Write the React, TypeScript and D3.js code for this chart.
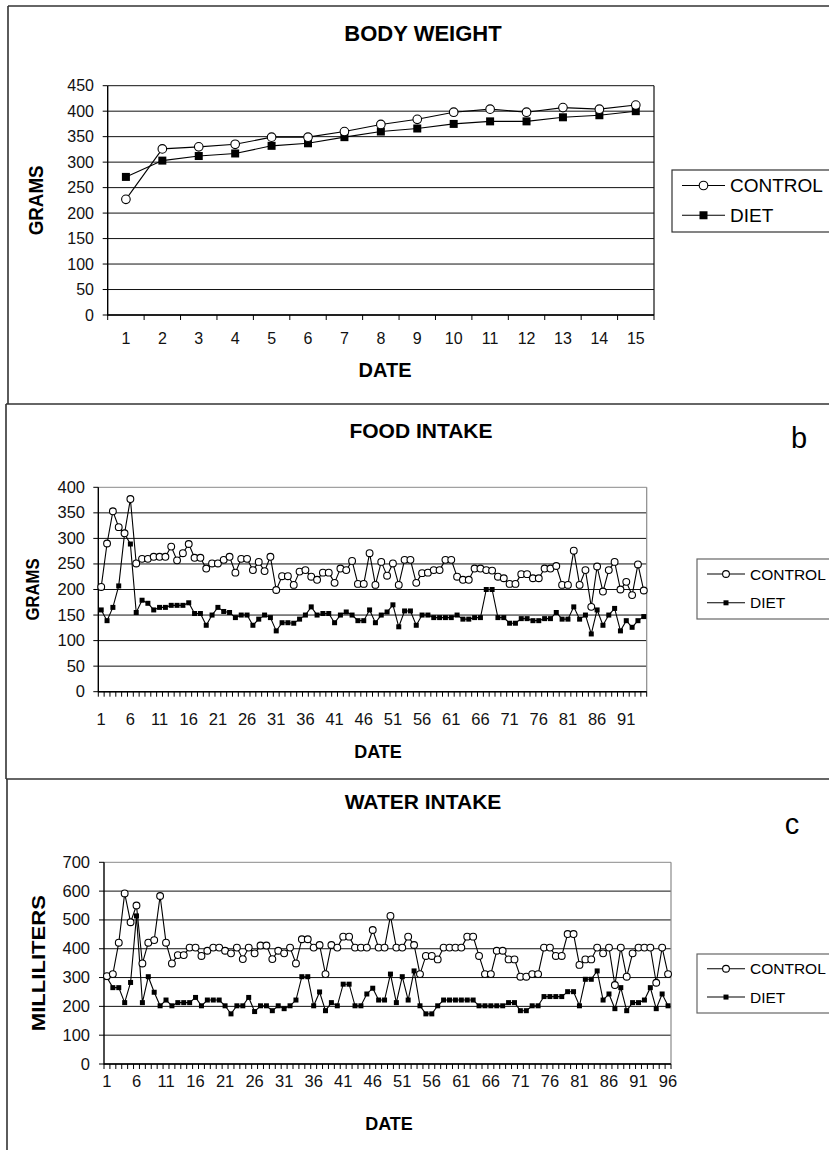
import React from "react";
import * as d3 from "d3";

// body weight, 15 weighings
const bodyDays = d3.range(1, 16);
const bodyControl = [227, 326, 330, 335, 349, 349, 360, 374, 384, 398, 404, 398, 407, 404, 412];
const bodyDiet = [271, 303, 312, 317, 332, 337, 349, 360, 366, 375, 380, 380, 388, 392, 400];

// food intake, 94 days
const foodDays = d3.range(1, 95);
const foodControl = [
  205, 290, 353, 322, 310, 377, 251, 260, 260, 264,
  264, 264, 284, 257, 271, 289, 262, 262, 241, 251,
  251, 258, 264, 233, 260, 260, 238, 254, 236, 264,
  199, 226, 226, 209, 235, 238, 225, 219, 233, 233,
  213, 241, 238, 256, 211, 211, 271, 209, 254, 227,
  251, 209, 258, 258, 213, 232, 233, 238, 238, 258,
  258, 225, 219, 219, 241, 241, 238, 237, 225, 222,
  211, 211, 230, 230, 222, 222, 241, 241, 246, 209,
  209, 276, 209, 238, 166, 245, 196, 238, 254, 200,
  215, 189, 249, 198,
];
const foodDiet = [
  160, 139, 165, 207, 309, 289, 155, 179, 173, 160,
  165, 165, 169, 169, 169, 174, 153, 153, 130, 150,
  165, 157, 155, 145, 150, 150, 130, 142, 150, 145,
  119, 135, 135, 134, 142, 150, 166, 150, 153, 153,
  135, 150, 156, 150, 139, 139, 160, 135, 150, 156,
  170, 127, 158, 158, 130, 150, 150, 145, 145, 145,
  145, 150, 142, 142, 145, 145, 200, 200, 145, 145,
  134, 134, 143, 143, 139, 139, 143, 143, 155, 142,
  142, 166, 142, 150, 113, 160, 130, 150, 163, 119,
  139, 126, 139, 147,
];

// water intake, 96 days
const waterDays = d3.range(1, 97);
const waterControl = [
  305, 312, 421, 592, 492, 550, 349, 421, 430, 583,
  421, 349, 378, 378, 404, 404, 375, 393, 404, 404,
  393, 384, 404, 364, 404, 384, 411, 411, 364, 393,
  384, 404, 349, 433, 433, 404, 413, 312, 413, 404,
  442, 442, 404, 404, 404, 465, 404, 404, 514, 404,
  404, 442, 413, 312, 375, 375, 363, 404, 404, 404,
  404, 442, 442, 375, 312, 312, 393, 393, 363, 363,
  303, 303, 312, 312, 404, 404, 375, 375, 451, 451,
  344, 363, 363, 404, 384, 404, 274, 404, 303, 384,
  404, 404, 404, 282, 404, 312,
];
const waterDiet = [
  300, 265, 265, 213, 283, 514, 213, 303, 249, 202,
  222, 202, 213, 213, 213, 231, 202, 222, 222, 222,
  202, 174, 202, 202, 231, 182, 202, 202, 185, 202,
  192, 202, 222, 303, 303, 202, 250, 185, 213, 202,
  277, 277, 202, 202, 243, 263, 222, 222, 312, 213,
  303, 222, 323, 202, 174, 174, 202, 222, 222, 222,
  222, 222, 222, 202, 202, 202, 202, 202, 213, 213,
  185, 185, 202, 202, 234, 234, 234, 234, 251, 251,
  202, 294, 294, 323, 222, 243, 192, 265, 185, 213,
  213, 222, 265, 192, 243, 202,
];

const seriesNames = ["CONTROL", "DIET"];
const FONT = "'Liberation Sans', Arial, Helvetica, sans-serif";

function Panel(p: any) {
  const x = d3.scaleBand<number>().domain(p.days).range([p.left, p.right]).padding(0);
  const y = d3.scaleLinear().domain([0, p.yMax]).range([p.bottom, p.top]);
  const cx = (d: number) => (x(d) as number) + x.bandwidth() / 2;
  const line = d3
    .line<number>()
    .x((_, i) => cx(p.days[i]))
    .y((v) => y(v));
  const yTicks = d3.range(0, p.yMax + 1, p.yStep);
  const bounds = [...p.days.map((d: number) => x(d) as number), p.right];
  const r = p.big ? 4.3 : 3.4;
  const s = p.big ? 8 : 5;
  const frame = p.big ? "#111" : "#8a8a8a";

  const square = (px: number, py: number, key?: any) => (
    <rect key={key} x={px - s / 2} y={py - s / 2} width={s} height={s} fill="#000" />
  );
  const circle = (px: number, py: number, key?: any) => (
    <circle key={key} cx={px} cy={py} r={r} fill="#fff" stroke="#000" strokeWidth={1.1} />
  );

  return (
    <g fontFamily={FONT}>
      {/* title */}
      <text x={p.titleX} y={p.titleY} textAnchor="middle" fontWeight="bold" fontSize={p.titleSize}>
        {p.title}
      </text>
      {p.letter && (
        <text x={p.letterX} y={p.letterY} textAnchor="middle" fontSize={29}>
          {p.letter}
        </text>
      )}

      {/* grid */}
      {yTicks.map((t: number) => (
        <line
          key={"g" + t}
          x1={p.left}
          x2={p.right}
          y1={y(t)}
          y2={y(t)}
          stroke={t === p.yMax ? frame : "#111"}
          strokeWidth={1}
        />
      ))}
      <line x1={p.right} x2={p.right} y1={p.top} y2={p.bottom} stroke={frame} strokeWidth={1.2} />

      {/* axes */}
      <line x1={p.left} x2={p.left} y1={p.top} y2={p.bottom + 0.5} stroke="#000" strokeWidth={1.4} />
      <line x1={p.left} x2={p.right} y1={p.bottom} y2={p.bottom} stroke="#000" strokeWidth={1.4} />
      {yTicks.map((t: number) => (
        <g key={"y" + t}>
          <line x1={p.left - 5} x2={p.left} y1={y(t)} y2={y(t)} stroke="#000" />
          <text x={p.yLabelEnd} y={y(t) + 5.5} textAnchor="end" fontSize={p.tickSize} fill="#111">
            {t}
          </text>
        </g>
      ))}
      {bounds.map((bx: number, i: number) => (
        <line key={"xt" + i} x1={bx} x2={bx} y1={p.bottom} y2={p.bottom + 5} stroke="#000" />
      ))}
      {p.days.map((d: number, i: number) =>
        i % p.labelEvery === 0 ? (
          <text key={"xl" + d} x={cx(d)} y={p.xLabelY} textAnchor="middle" fontSize={p.tickSize} fill="#111">
            {d}
          </text>
        ) : null
      )}

      {/* axis titles */}
      <text x={p.dateX} y={p.dateY} textAnchor="middle" fontWeight="bold" fontSize={p.axisSize}>
        DATE
      </text>
      <text
        transform={`translate(${p.yTitleX},${(p.top + p.bottom) / 2}) rotate(-90)`}
        textAnchor="middle"
        fontWeight="bold"
        fontSize={p.axisSize}
        textLength={p.yTitleLen}
        lengthAdjust="spacingAndGlyphs"
      >
        {p.yTitle}
      </text>

      {/* series */}
      <path d={line(p.control) as string} fill="none" stroke="#000" strokeWidth={1.1} />
      <path d={line(p.diet) as string} fill="none" stroke="#000" strokeWidth={1.1} />
      {p.diet.map((v: number, i: number) => square(cx(p.days[i]), y(v), "d" + i))}
      {p.control.map((v: number, i: number) => circle(cx(p.days[i]), y(v), "c" + i))}

      {/* legend */}
      <rect
        x={p.legX}
        y={p.legY}
        width={829 - p.legX + 10}
        height={p.legH}
        fill="#fff"
        stroke={p.big ? "#333" : "#666"}
        strokeWidth={1.2}
      />
      {seriesNames.map((name, i) => {
        const ly = p.legY + p.legH * (i === 0 ? 0.25 : 0.73);
        return (
          <g key={name}>
            <line x1={p.legX + 10} x2={p.legX + p.legLine} y1={ly} y2={ly} stroke="#000" strokeWidth={1.1} />
            {i === 0
              ? circle(p.legX + 10 + (p.legLine - 10) / 2, ly)
              : square(p.legX + 10 + (p.legLine - 10) / 2, ly)}
            <text x={p.legX + p.legLine + 5} y={ly + p.legSize * 0.36} fontSize={p.legSize}>
              {name}
            </text>
          </g>
        );
      })}
    </g>
  );
}

export default function App() {
  return (
    <div style={{ position: "absolute", left: 0, top: 0, background: "#fff" }}>
      <svg width={829} height={1150} style={{ display: "block", background: "#fff" }}>
        {/* panel frames */}
        <g stroke="#333" strokeWidth={1.6} fill="none">
          <line x1={8} x2={829} y1={6} y2={6} />
          <line x1={8} x2={8} y1={6} y2={404} />
          <line x1={6} x2={829} y1={404} y2={404} />
          <line x1={6} x2={6} y1={404} y2={779} />
          <line x1={6} x2={829} y1={779} y2={779} />
          <line x1={7} x2={7} y1={779} y2={1150} />
        </g>

        <Panel
          title="BODY WEIGHT"
          titleX={423}
          titleY={41}
          titleSize={22}
          days={bodyDays}
          control={bodyControl}
          diet={bodyDiet}
          left={107.7}
          right={654}
          top={85.7}
          bottom={315}
          yMax={450}
          yStep={50}
          big={true}
          yLabelEnd={94}
          tickSize={16}
          xLabelY={344}
          labelEvery={1}
          dateX={385}
          dateY={377}
          axisSize={20}
          yTitle="GRAMS"
          yTitleX={43}
          yTitleLen={70}
          legX={672}
          legY={170}
          legH={62}
          legLine={53}
          legSize={19}
        />

        <Panel
          title="FOOD INTAKE"
          titleX={421}
          titleY={438}
          titleSize={21}
          letter="b"
          letterX={799}
          letterY={448}
          days={foodDays}
          control={foodControl}
          diet={foodDiet}
          left={98.3}
          right={646.7}
          top={487.3}
          bottom={691.7}
          yMax={400}
          yStep={50}
          big={false}
          yLabelEnd={85}
          tickSize={16.5}
          xLabelY={725}
          labelEvery={5}
          dateX={378}
          dateY={758}
          axisSize={18}
          yTitle="GRAMS"
          yTitleX={39}
          yTitleLen={62}
          legX={697}
          legY={559}
          legH={60}
          legLine={48}
          legSize={15.5}
        />

        <Panel
          title="WATER INTAKE"
          titleX={423}
          titleY={809}
          titleSize={21}
          letter="c"
          letterX={792}
          letterY={834}
          days={waterDays}
          control={waterControl}
          diet={waterDiet}
          left={104}
          right={671}
          top={862.3}
          bottom={1064}
          yMax={700}
          yStep={100}
          big={false}
          yLabelEnd={90}
          tickSize={16.5}
          xLabelY={1087}
          labelEvery={5}
          dateX={389}
          dateY={1130}
          axisSize={18}
          yTitle="MILLILITERS"
          yTitleX={45}
          yTitleLen={136}
          legX={697}
          legY={954}
          legH={59}
          legLine={48}
          legSize={15.5}
        />
      </svg>
    </div>
  );
}
